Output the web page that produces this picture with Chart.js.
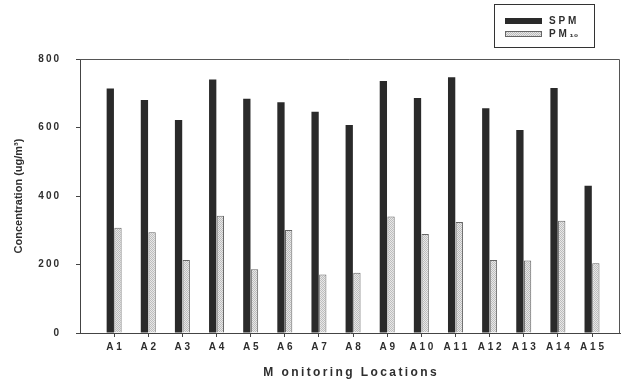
<!DOCTYPE html>
<html>
<head>
<meta charset="utf-8">
<script src="https://cdn.jsdelivr.net/npm/chart.js@4"></script>
<style>
  html, body { margin: 0; padding: 0; background: #fff; }
  #wrap { width: 622px; height: 383px; position: relative; }
</style>
</head>
<body>
<div id="wrap"><canvas id="barChart"></canvas></div>
<script>
const locations = ['A1','A2','A3','A4','A5','A6','A7','A8','A9','A10','A11','A12','A13','A14','A15'];
const spm  = [714, 680, 622, 740, 684, 674, 646, 607, 736, 686, 747, 656, 593, 715, 430];
const pm10 = [307, 294, 213, 342, 186, 301, 171, 176, 340, 289, 324, 213, 212, 328, 204];
const yTicks = [0, 200, 400, 600, 800];

const ink = '#2e2e2e';
const thin = '\u2009';
const spaced = (s, sep) => s.split('').join(sep || thin);
const font = '"Liberation Sans", Arial, sans-serif';

document.addEventListener('DOMContentLoaded', function () {

    /* light dotted fill for the PM10 bars */
    const pc = document.createElement('canvas');
    pc.width = 2; pc.height = 2;
    const p = pc.getContext('2d');
    p.fillStyle = '#e8e8e8'; p.fillRect(0, 0, 2, 2);
    p.fillStyle = '#bdbdbd'; p.fillRect(0, 0, 1, 1); p.fillRect(1, 1, 1, 1);
    const ctx = document.getElementById('barChart').getContext('2d');
    const paleFill = ctx.createPattern(pc, 'repeat');

    /* frame around the plot + boxed legend */
    const framePlugin = {
        id: 'frame',
        afterDraw(chart) {
            const c = chart.ctx, a = chart.chartArea;
            c.save();
            c.strokeStyle = '#555';
            c.lineWidth = 1;
            c.beginPath();
            c.moveTo(a.left, a.top + 0.5);
            c.lineTo(a.right - 0.5, a.top + 0.5);
            c.lineTo(a.right - 0.5, a.bottom);
            c.stroke();

            // legend
            c.strokeStyle = '#333';
            c.strokeRect(494.5, 4.5, 100, 43);
            c.font = 'bold 10px ' + font;
            c.textBaseline = 'middle';
            chart.data.datasets.forEach((d, i) => {
                const y = 18 + i * 13;
                c.fillStyle = d.backgroundColor;
                c.fillRect(505, y, 37, 6);
                c.strokeStyle = d.borderColor;
                c.strokeRect(505.5, y + 0.5, 36, 5);
                c.fillStyle = ink;
                c.fillText(d.legendText, 549, y + 3);
            });
            c.restore();
        }
    };

    new Chart(ctx, {
        type: 'bar',
        data: {
            datasets: [{
                label: 'SPM',
                legendText: spaced('SPM', ' '),
                data: spm.map((v, i) => ({ x: i, y: v })),
                backgroundColor: '#2a2a2a',
                borderColor: '#2a2a2a',
                borderWidth: 0
            }, {
                label: 'PM10',
                legendText: 'P M ' + '\u2081\u2080',
                data: pm10.map((v, i) => ({ x: i, y: v })),
                backgroundColor: paleFill,
                borderColor: '#666',
                borderWidth: 1,
                borderSkipped: 'bottom'
            }]
        },
        options: {
            responsive: true,
            maintainAspectRatio: false,
            animation: false,
            categoryPercentage: 0.45,
            barPercentage: 0.95,
            layout: { padding: { top: 59, left: 8, right: 2, bottom: 0 } },
            plugins: { legend: { display: false }, tooltip: { enabled: false } },
            scales: {
                x: {
                    type: 'linear',
                    offset: false,
                    min: -1,
                    max: 14.82,
                    afterBuildTicks: axis => { axis.ticks = locations.map((l, i) => ({ value: i })); },
                    afterFit: axis => { axis.height = 50; },
                    grid: { display: true, drawOnChartArea: false, tickLength: 4, color: '#444', offset: false },
                    border: { color: '#444', width: 1 },
                    ticks: {
                        autoSkip: false,
                        maxRotation: 0,
                        padding: 4,
                        color: ink,
                        font: { family: font, size: 10, weight: 'bold' },
                        callback: v => locations[v] ? spaced(locations[v], ' ') : undefined
                    },
                    title: {
                        display: true,
                        text: spaced('M onitoring Locations'),
                        color: ink,
                        padding: { top: 14, bottom: 3 },
                        font: { family: font, size: 12, weight: 'bold' }
                    }
                },
                y: {
                    min: 0,
                    max: 800,
                    afterBuildTicks: axis => { axis.ticks = yTicks.map(v => ({ value: v })); },
                    afterFit: axis => { axis.width = 72; },
                    grid: { display: true, drawOnChartArea: false, tickLength: 4, color: '#444' },
                    border: { color: '#444', width: 1 },
                    ticks: {
                        padding: 17,
                        color: ink,
                        font: { family: font, size: 10, weight: 'bold' },
                        callback: v => spaced(String(v))
                    },
                    title: {
                        display: true,
                        text: 'Concentration (ug/m\u00B3)',
                        color: ink,
                        padding: { top: 4, bottom: 13 },
                        font: { family: font, size: 11, weight: 'bold' }
                    }
                }
            }
        },
        plugins: [framePlugin]
    });

});
</script>
</body>
</html>
